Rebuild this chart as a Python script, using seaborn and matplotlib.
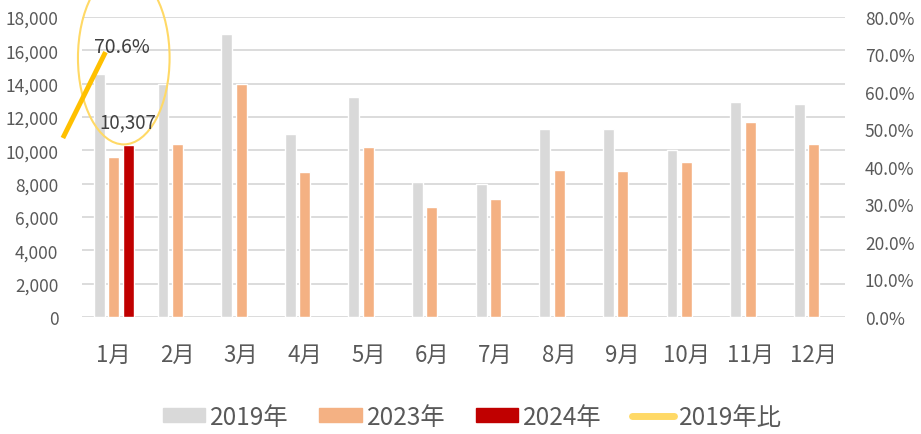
import matplotlib
matplotlib.use('Agg')
import matplotlib.pyplot as plt
import matplotlib.patches as mpatches
from matplotlib.lines import Line2D
from matplotlib.ticker import FuncFormatter
import numpy as np
import pandas as pd
import seaborn as sns

# data
months = ['1月', '2月', '3月', '4月', '5月', '6月', '7月', '8月', '9月', '10月', '11月', '12月']
v2019 = [14550, 14000, 17000, 11000, 13200, 8100, 8000, 11300, 11300, 10000, 12900, 12800]
v2023 = [9600, 10400, 14000, 8700, 10200, 6600, 7100, 8800, 8750, 9300, 11700, 10400]
v2024 = [10307] + [np.nan] * 11
series = ['2019年', '2023年', '2024年']
ratio_name = '2019年比'
ratio_vals = [47.7, 70.6]

COLORS = ['#D9D9D9', '#F4B183', '#C00000']
LINE_COLOR = '#FFC000'
LEGEND_LINE = '#FFD966'
TEXT = '#595959'

sns.set_theme(style='white')
plt.rcParams['font.family'] = ['Noto Sans CJK JP', 'DejaVu Sans']

df = pd.DataFrame({
    'month': months * 3,
    'series': np.repeat(series, 12),
    'value': v2019 + v2023 + v2024,
})

fig = plt.figure(figsize=(9.21, 4.35), dpi=100)
ax = fig.add_axes([0.089, 0.269, 0.829, 0.690])

sns.barplot(data=df, x='month', y='value', hue='series', hue_order=series,
            order=months, palette=COLORS, width=0.68, gap=0.24,
            legend=False, ax=ax, saturation=1)

ax.set_ylim(0, 18000)
ax.set_yticks(range(0, 18001, 2000))
ax.yaxis.set_major_formatter(FuncFormatter(lambda v, p: f'{int(v):,}'))
ax.set_xlim(-0.5, 11.5)
ax.grid(axis='y', color='#D9D9D9', linewidth=1.3)
ax.set_axisbelow(True)
for s in ax.spines.values():
    s.set_visible(False)
ax.set_xlabel('')
ax.set_ylabel('')
ax.tick_params(axis='y', labelsize=12.5, labelcolor=TEXT, length=0, pad=17)
ax.tick_params(axis='x', labelsize=16, labelcolor=TEXT, length=0, pad=19)

# 2024 bar label
ax.annotate(f'{v2024[0]:,}', xy=(0.2267, v2024[0]), xytext=(0, 9),
            textcoords='offset points', ha='center', va='bottom',
            fontsize=13.5, color='#404040')

# ratio line on secondary axis
ax2 = ax.twinx()
ax2.set_ylim(0, 80)
ax2.set_yticks(range(0, 81, 10))
ax2.yaxis.set_major_formatter(FuncFormatter(lambda v, p: f'{v:.1f}%'))
ax2.tick_params(axis='y', labelsize=12.5, labelcolor=TEXT, length=0, pad=14)
for s in ax2.spines.values():
    s.set_visible(False)
ax2.grid(False)
line_x = np.array([-0.8, -0.13])
sns.lineplot(x=line_x, y=ratio_vals, ax=ax2, color=LINE_COLOR, linewidth=3.5,
             clip_on=False, solid_capstyle='butt')
ax2.set_xlim(-0.5, 11.5)
ax2.set_ylabel('')
ax2.annotate(f'{ratio_vals[-1]:.1f}%', xy=(line_x[-1], ratio_vals[-1]),
             xytext=(12, 4), textcoords='offset points', ha='center',
             va='center', fontsize=14, color='#404040')

# highlight ellipse
ell = mpatches.Ellipse((0.157, 15540), 1.44, 10380, fill=False,
                       edgecolor=LEGEND_LINE, linewidth=1.5, clip_on=False)
ax.add_patch(ell)

handles = [mpatches.Patch(color=c, label=l) for c, l in zip(COLORS, series)]
handles.append(Line2D([0], [0], color=LEGEND_LINE, linewidth=5,
                      solid_capstyle='round', label=ratio_name))
fig.legend(handles=handles, loc='center', bbox_to_anchor=(0.513, 0.04),
           ncol=4, frameon=False, fontsize=17.5, labelcolor=TEXT,
           handlelength=1.75, handleheight=0.55, handletextpad=0.2,
           columnspacing=1.25, borderpad=0.2)

fig.savefig('out.png', dpi=100, facecolor='white')
